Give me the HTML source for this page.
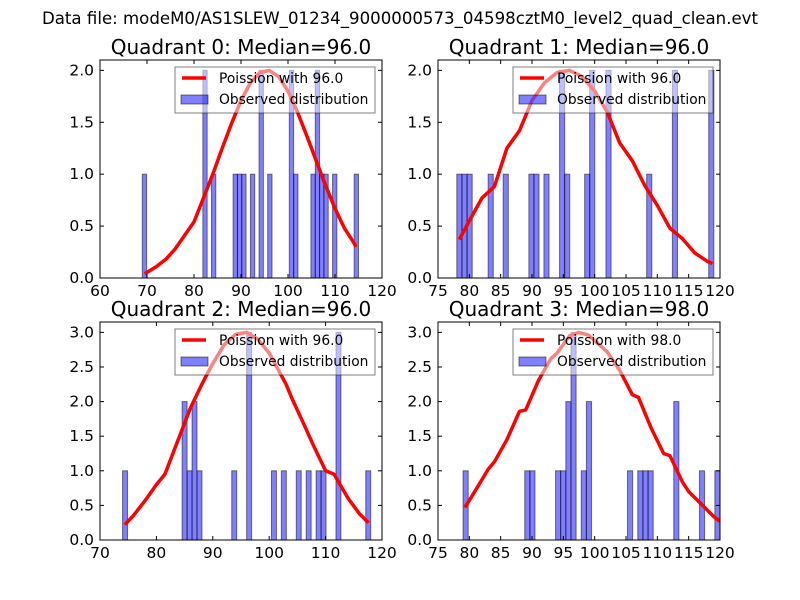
<!DOCTYPE html>
<html><head><meta charset="utf-8">
<style>
body{margin:0;background:#fff;}
svg{display:block;font-family:"DejaVu Sans","Liberation Sans",sans-serif;}
</style></head>
<body>
<svg id="fig" width="800" height="600" viewBox="0 0 800 600">
<rect width="800" height="600" fill="#fff"/>
<text x="400" y="24" text-anchor="middle" font-size="16.6">Data file: modeM0/AS1SLEW_01234_9000000573_04598cztM0_level2_quad_clean.evt</text>
</svg>
<script>
// Quadrant 0
const q0Bins = [69.0,81.88,83.72,88.32,89.24,90.16,92.0,93.84,95.68,100.28,101.2,104.88,105.8,106.72,107.64,109.48,114.08];
const q0Counts = [1,2,1,1,1,1,1,2,1,2,1,1,2,1,1,1,1];
const q0CurveX = [69.5,72,74,76,78,80,82,84,86,88,90,92,94,96,98,100,102,104,106,108,110,112,114,114.5];
const q0CurveY = [0.04,0.11,0.18,0.28,0.41,0.54,0.77,1.0,1.25,1.49,1.71,1.88,1.98,2.0,1.94,1.8,1.6,1.37,1.13,0.89,0.67,0.48,0.34,0.3];
// Quadrant 1
const q1Bins = [78.0,78.82,79.64,83.0,85.4,89.5,90.3,91.9,94.4,95.2,98.4,99.2,101.8,108.3,112.4,118.2];
const q1Counts = [1,1,1,1,1,1,1,1,2,1,1,2,2,1,2,2];
const q1CurveX = [78.4,80,82,84,86,88,90,92,94,96,98,100,102,104,106,108,110,112,114,116,118,118.8];
const q1CurveY = [0.37,0.55,0.77,0.88,1.25,1.42,1.71,1.88,1.98,2.0,1.94,1.8,1.6,1.3,1.13,0.89,0.7,0.48,0.38,0.24,0.16,0.14];
// Quadrant 2
const q2Bins = [74.0,84.56,85.44,86.32,87.2,93.36,96.0,100.4,102.16,104.8,106.56,108.32,109.2,111.84,117.12];
const q2Counts = [1,2,1,2,1,1,3,1,1,1,1,1,1,3,1];
const q2CurveX = [74.4,76,78,80,81.5,84,86,88,89,90,92,94,96,98,100,102,103,104,106,108,110,111.5,114,116,117.6];
const q2CurveY = [0.22,0.36,0.57,0.8,0.95,1.48,1.9,2.24,2.4,2.55,2.82,2.97,3.0,2.9,2.7,2.4,2.25,2.05,1.7,1.34,1.0,0.95,0.6,0.38,0.25];
// Quadrant 3
const q3Bins = [79.0,88.84,89.66,93.76,94.58,95.4,96.22,97.86,98.68,105.24,106.88,107.7,108.52,112.62,116.72,119.18];
const q3Counts = [1,1,1,1,1,2,3,1,2,1,1,1,1,2,1,1];
const q3CurveX = [79.3,81,83,84,86,88,89,91,93,94,96,97.5,99,101,102,104,106,107,109,111,112,114,115,117,119,120];
const q3CurveY = [0.47,0.72,1.02,1.13,1.45,1.86,1.88,2.3,2.62,2.7,2.95,3.0,2.96,2.8,2.72,2.45,2.1,2.06,1.62,1.25,1.22,0.84,0.7,0.52,0.34,0.27];

const binWidths = [0.92,0.82,0.88,0.82];
const xTicks = [[60,70,80,90,100,110,120],[75,80,85,90,95,100,105,110,115,120],[70,80,90,100,110,120],[75,80,85,90,95,100,105,110,115,120]];
const yTicks = [[0,0.5,1,1.5,2],[0,0.5,1,1.5,2],[0,0.5,1,1.5,2,2.5,3],[0,0.5,1,1.5,2,2.5,3]];
const xLims = [[60,120],[75,120],[70,120],[75,120]];
const yLims = [[0,2.1],[0,2.1],[0,3.15],[0,3.15]];
const titles = ["Quadrant 0: Median=96.0","Quadrant 1: Median=96.0","Quadrant 2: Median=96.0","Quadrant 3: Median=98.0"];
const lambdas = ["96.0","96.0","96.0","98.0"];
const allBins=[q0Bins,q1Bins,q2Bins,q3Bins], allCounts=[q0Counts,q1Counts,q2Counts,q3Counts];
const allCX=[q0CurveX,q1CurveX,q2CurveX,q3CurveX], allCY=[q0CurveY,q1CurveY,q2CurveY,q3CurveY];

const NS="http://www.w3.org/2000/svg";
const svg=document.getElementById('fig');
function mk(tag,attrs,parent){const e=document.createElementNS(NS,tag);for(const k in attrs)e.setAttribute(k,attrs[k]);(parent||svg).appendChild(e);return e;}
const boxes=[[100,60,382,278],[438,60,720,278],[100,322,382,540],[438,322,720,540]];
for(let q=0;q<4;q++){
  const [L,T,R,B]=boxes[q];
  const g=mk('g',{});
  
  
  const sx=v=>L+(v-xLims[q][0])/(xLims[q][1]-xLims[q][0])*(R-L);
  const sy=v=>B-(v-yLims[q][0])/(yLims[q][1]-yLims[q][0])*(B-T);
  const ttl=mk('text',{x:(L+R)/2,y:T-6,'text-anchor':'middle','font-size':'20'},g);
  ttl.textContent=titles[q];
  
  
  const clipId='clip'+q;
  const cp=mk('clipPath',{id:clipId},g);mk('rect',{x:L,y:T,width:R-L,height:B-T},cp);
  const plot=mk('g',{'clip-path':'url(#'+clipId+')'},g);
  for(let i=0;i<allBins[q].length;i++){
    const x0=sx(allBins[q][i]),x1=sx(allBins[q][i]+binWidths[q]);
    const r=mk('rect',{x:x0,y:sy(allCounts[q][i]),width:x1-x0,height:sy(0)-sy(allCounts[q][i]),fill:'rgba(0,0,255,0.5)',stroke:'rgba(0,0,0,0.5)','stroke-width':1},plot);
    
    
  }
  const pts=allCX[q].map((x,i)=>sx(x).toFixed(1)+','+sy(allCY[q][i]).toFixed(1)).join(' ');
  const pl=mk('polyline',{points:pts,fill:'none',stroke:'#ff0000','stroke-width':3.5,'stroke-linejoin':'round'},plot);
  
  
  // legend
  const lx=R-207, ly=T+7;
  const lg=mk('g',{},g);
  
  
  mk('rect',{x:lx,y:ly,width:200,height:46,fill:'rgba(255,255,255,0.5)',stroke:'rgba(0,0,0,0.5)','stroke-width':1},lg);
  mk('line',{x1:lx+7,y1:ly+11,x2:lx+31,y2:ly+11,stroke:'#ff0000','stroke-width':3.5},lg);
  const t1=mk('text',{x:lx+44,y:ly+16,'font-size':'13.8'},lg);t1.textContent='Poission with '+lambdas[q];
  
  
  mk('rect',{x:lx+6,y:ly+28,width:27,height:9,fill:'rgba(0,0,255,0.5)',stroke:'rgba(0,0,0,0.5)'},lg);
  const t2=mk('text',{x:lx+44,y:ly+37,'font-size':'13.8'},lg);t2.textContent='Observed distribution';
  
  
  // frame
  mk('rect',{x:L,y:T,width:R-L,height:B-T,fill:'none',stroke:'#000','stroke-width':1},g);
  xTicks[q].forEach(v=>{const x=sx(v);
    mk('line',{x1:x,y1:B,x2:x,y2:B-4,stroke:'#000'},g);mk('line',{x1:x,y1:T,x2:x,y2:T+4,stroke:'#000'},g);
    const t=mk('text',{x:x,y:B+18,'text-anchor':'middle','font-size':'15.5'},g);t.textContent=String(v);
    
    });
  yTicks[q].forEach(v=>{const y=sy(v);
    mk('line',{x1:L,y1:y,x2:L+4,y2:y,stroke:'#000'},g);mk('line',{x1:R,y1:y,x2:R-4,y2:y,stroke:'#000'},g);
    const t=mk('text',{x:L-6,y:y+5,'text-anchor':'end','font-size':'15.5'},g);t.textContent=v.toFixed(1);
    
    });
}
</script>
</body></html>
